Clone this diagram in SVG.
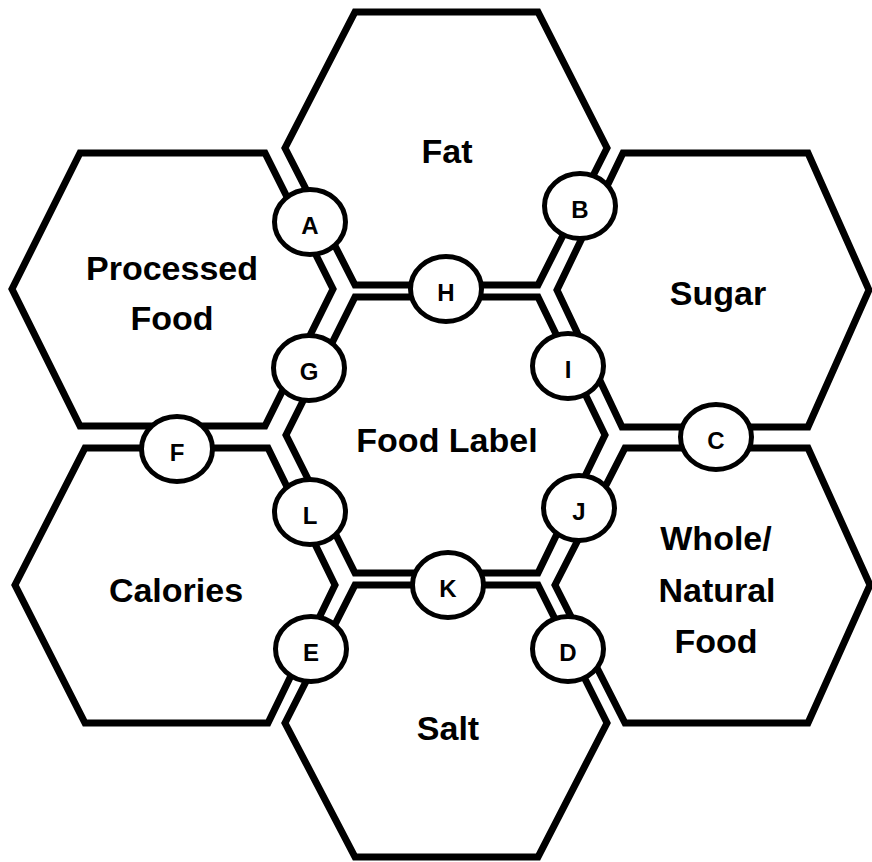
<svg xmlns="http://www.w3.org/2000/svg" width="872" height="862" viewBox="0 0 872 862">
<style>
.hex{fill:#fff;stroke:#000;stroke-width:7;stroke-linejoin:miter}
.mk{fill:#fff;stroke:#000;stroke-width:5}
.t{font-family:"Liberation Sans",Arial,sans-serif;font-weight:bold;font-size:34px;fill:#000;text-anchor:middle}
.l{font-family:"Liberation Sans",Arial,sans-serif;font-weight:bold;font-size:24px;fill:#000;text-anchor:middle}
</style>
<rect width="872" height="862" fill="#fff"/>
<g id="fat"><polygon class="hex" points="285,148 355,12 538,12 607,148 538,285 355,285"/><text class="t" x="447" y="163">Fat</text></g>
<g id="processed-food"><polygon class="hex" points="12,289 80,153 265,153 333,289 265,426 80,426"/><text class="t" x="172" y="280">Processed</text><text class="t" x="172" y="330">Food</text></g>
<g id="sugar"><polygon class="hex" points="557,290 623,153 808,153 869,290 808,427 622,427"/><text class="t" x="718" y="305">Sugar</text></g>
<g id="food-label"><polygon class="hex" points="286,435 355,297 538,297 605,435 538,573 355,573"/><text class="t" x="447" y="452">Food Label</text></g>
<g id="calories"><polygon class="hex" points="15,585 85,448 268,448 335,585 268,723 85,723"/><text class="t" x="176" y="602">Calories</text></g>
<g id="whole-natural-food"><polygon class="hex" points="555,585 625,448 808,448 870,585 808,723 625,723"/><text class="t" x="716" y="550">Whole/</text><text class="t" x="717" y="602">Natural</text><text class="t" x="716" y="653">Food</text></g>
<g id="salt"><polygon class="hex" points="285,723 355,585 538,585 607,723 538,857 355,857"/><text class="t" x="448" y="740">Salt</text></g>
<g id="connectors">
<g id="A"><ellipse class="mk" cx="310" cy="222" rx="35.5" ry="32.5"/><text class="l" x="310" y="234">A</text></g>
<g id="B"><ellipse class="mk" cx="580" cy="206" rx="35.5" ry="32.5"/><text class="l" x="580" y="218">B</text></g>
<g id="C"><ellipse class="mk" cx="716" cy="437" rx="35.5" ry="32.5"/><text class="l" x="716" y="449">C</text></g>
<g id="D"><ellipse class="mk" cx="568" cy="649" rx="35.5" ry="32.5"/><text class="l" x="568" y="661">D</text></g>
<g id="E"><ellipse class="mk" cx="311" cy="649" rx="35.5" ry="32.5"/><text class="l" x="311" y="661">E</text></g>
<g id="F"><ellipse class="mk" cx="177" cy="449" rx="35.5" ry="32.5"/><text class="l" x="177" y="461">F</text></g>
<g id="G"><ellipse class="mk" cx="309" cy="368" rx="35.5" ry="32.5"/><text class="l" x="309" y="380">G</text></g>
<g id="H"><ellipse class="mk" cx="446" cy="289" rx="35.5" ry="32.5"/><text class="l" x="446" y="301">H</text></g>
<g id="I"><ellipse class="mk" cx="568" cy="366" rx="35.5" ry="32.5"/><text class="l" x="568" y="378">I</text></g>
<g id="J"><ellipse class="mk" cx="579" cy="508" rx="35.5" ry="32.5"/><text class="l" x="579" y="520">J</text></g>
<g id="K"><ellipse class="mk" cx="448" cy="585" rx="35.5" ry="32.5"/><text class="l" x="448" y="597">K</text></g>
<g id="L"><ellipse class="mk" cx="310" cy="512" rx="35.5" ry="32.5"/><text class="l" x="310" y="524">L</text></g>
</g>
</svg>
